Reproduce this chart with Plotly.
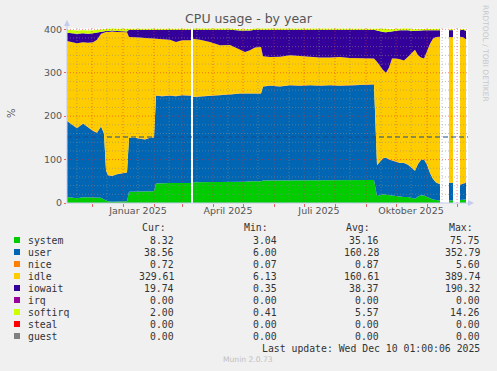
import plotly.graph_objects as go

# ---------------- data ----------------
dates = [
    "2024-11-06", "2024-11-11", "2024-11-16", "2024-11-22", "2024-11-27", "2024-12-02", "2024-12-06",
    "2024-12-10", "2024-12-13", "2024-12-15", "2024-12-17", "2024-12-21", "2024-12-26", "2024-12-31",
    "2025-01-05", "2025-01-07", "2025-01-13", "2025-01-18", "2025-01-23", "2025-01-28", "2025-02-01",
    "2025-02-03", "2025-02-09", "2025-02-17", "2025-02-23", "2025-03-01", "2025-03-10",
    "2025-03-11",  # no data
    "2025-03-12", "2025-03-19", "2025-03-29", "2025-04-08", "2025-04-18", "2025-04-28", "2025-05-03",
    "2025-05-08", "2025-05-13", "2025-05-19", "2025-05-21", "2025-05-28", "2025-06-07", "2025-06-17",
    "2025-06-27", "2025-07-07", "2025-07-17", "2025-07-27", "2025-08-06", "2025-08-16", "2025-08-26",
    "2025-09-05", "2025-09-09", "2025-09-12", "2025-09-15", "2025-09-18", "2025-09-21", "2025-09-24",
    "2025-09-27", "2025-10-01", "2025-10-05", "2025-10-09", "2025-10-13", "2025-10-17", "2025-10-20",
    "2025-10-23", "2025-10-26", "2025-10-29", "2025-11-01", "2025-11-04", "2025-11-07", "2025-11-10",
    "2025-11-14",
    "2025-11-18",  # no data
    "2025-11-23", "2025-11-25", "2025-11-27",
    "2025-11-30",  # no data
    "2025-12-04", "2025-12-07", "2025-12-10",
]
N = None
system = [14, 13, 11, 13, 13, 13, 12, 12, 8, 5, 4, 3, 3, 4, 4, 26, 26, 26, 26, 26, 27, 45, 46, 46, 46, 46, 46,
          N,
          48, 48, 48, 48, 49, 49, 49, 50, 50, 50, 52, 52, 52, 52, 53, 53, 53, 53, 53, 53, 53, 53, 53,
          16, 18, 20, 19, 18, 17, 15, 15, 14, 14, 12, 10, 15, 18, 17, 14, 10, 8, 7, 6,
          N, 6, 6, 6, N, 7, 8, 8.32]
user = [175, 167, 161, 170, 162, 153, 150, 164, 152, 70, 60, 59, 63, 64, 66, 124, 124, 122, 120, 124, 124,
        202, 200, 201, 200, 202, 201,
        N,
        196, 197, 198, 200, 201, 203, 203, 203, 202, 202, 216, 218, 216, 219, 217, 218, 217, 218, 217, 218,
        218, 219, 220, 71, 77, 83, 85, 82, 81, 80, 77, 78, 74, 68, 64, 75, 81, 83, 74, 59, 47, 40, 37,
        N, 40, 40, 40, N, 35, 37, 38.56]
nice = [0.9] * 27 + [N] + [0.9] * 43 + [N] + [0.9] * 3 + [N] + [0.9, 0.9, 0.72]
idle = [183.1, 189.1, 195.1, 186.1, 193.1, 203.1, 213.1, 213.1, 232.1, 318.1, 329.1, 332.1, 327.1, 325.1,
        322.1, 231.1, 231.1, 232.1, 233.1, 229.1, 227.1, 130.1, 130.1, 128.1, 124.1, 126.1, 127.1,
        N,
        133.1, 130.1, 124.1, 114.1, 113.1, 101.1, 95.1, 98.1, 105.1, 106.1, 69.1, 65.1, 68.1, 68.1, 67.1,
        64.1, 64.1, 63.1, 65.1, 62.1, 62.1, 61.1, 59.1, 237.1, 219.1, 202.1, 195.1, 211.1, 234.1, 237.1,
        238.1, 235.1, 248.1, 265.1, 278.1, 249.1, 235.1, 232.1, 261.1, 297.1, 323.1, 334.1, 339.1,
        N, 335.1, 335.1, 335.1, N, 340.1, 336, 329.61]
iowait = [19, 21, 22, 21, 21, 21, 17, 5, 3, 2, 2, 2, 2, 2, 2, 17, 17, 18, 19, 19, 20, 21, 22, 23, 28, 24, 24,
          N,
          21, 23, 28, 36, 35, 43, 49, 45, 41, 40, 61, 63, 62, 59, 61, 63, 64, 64, 63, 65, 65, 65, 66,
          72, 80, 88, 93, 82, 63, 64, 67, 70, 61, 50, 43, 56, 62, 65, 48, 31, 19, 16, 15,
          N, 16, 16, 16, N, 15, 17, 19.74]
irq = [0] * 27 + [N] + [0] * 43 + [N] + [0] * 3 + [N] + [0] * 3
softirq = [7, 7, 7, 7, 7, 7, 6, 5, 5, 5, 5, 5, 5, 5, 5, 2, 2, 2, 2, 2, 2, 2, 2, 2, 2, 2, 2,
           N,
           3, 3, 3, 3, 3, 3, 3, 3, 3, 3, 3, 3, 3, 3, 3, 3, 3, 3, 3, 3, 3, 3, 3,
           5, 6, 7, 8, 6, 4, 4, 3, 4, 4, 4, 4, 4, 4, 3, 3, 3, 3, 3, 3,
           N, 2, 2, 2, N, 2, 2, 2.00]
steal = [0] * 27 + [N] + [0] * 43 + [N] + [0] * 3 + [N] + [0] * 3
guest = [0] * 27 + [N] + [0] * 43 + [N] + [0] * 3 + [N] + [0] * 3

series_names = ["system", "user", "nice", "idle", "iowait", "irq", "softirq", "steal", "guest"]
series_values = [system, user, nice, idle, iowait, irq, softirq, steal, guest]
series_colors = ["#00CC00", "#0066B3", "#FF8000", "#FFCC00", "#330099", "#990099", "#CCFF00", "#FF0000", "#808080"]

cur_vals = [8.32, 38.56, 0.72, 329.61, 19.74, 0.00, 2.00, 0.00, 0.00]
min_vals = [3.04, 6.00, 0.07, 6.13, 0.35, 0.00, 0.41, 0.00, 0.00]
avg_vals = [35.16, 160.28, 0.87, 160.61, 38.37, 0.00, 5.57, 0.00, 0.00]
max_vals = [75.75, 352.79, 5.60, 389.74, 190.32, 0.00, 14.26, 0.00, 0.00]

warning_level = 152

y_ticks = [0, 100, 200, 300, 400]
x_label_dates = ["2025-01-16", "2025-04-16", "2025-07-16", "2025-10-16"]
x_label_text = ["Januar 2025", "April 2025", "Juli 2025", "Oktober 2025"]
x_start, x_end = "2024-11-06", "2025-12-12"
y_max = 403
last_update = "Last update: Wed Dec 10 01:00:06 2025"

# ---------------- layout geometry ----------------
W, H = 497, 371
L, R, T, B = 67, 29, 28, 168
PW = W - L - R
PH = H - T - B


def px_x(px):
    return (px - L) / PW


def px_y(py):
    return (H - B - py) / PH


# split into contiguous segments (None = no data)
segments = []
cur = []
for i, d in enumerate(dates):
    if system[i] is None:
        if cur:
            segments.append(cur)
        cur = []
    else:
        cur.append(i)
if cur:
    segments.append(cur)

fig = go.Figure()
for si, seg in enumerate(segments):
    for name, vals, col in zip(series_names, series_values, series_colors):
        fig.add_trace(go.Scatter(
            x=[dates[i] for i in seg], y=[vals[i] for i in seg],
            stackgroup=f"seg{si}", mode="lines", line=dict(width=0, color=col),
            fillcolor=col, name=name, showlegend=False, hoverinfo="skip"))

shapes = []
MINOR = "rgba(140,140,140,0.55)"
MAJOR = "rgba(235,40,40,0.55)"
DOT = "1px,2px"
# horizontal grid
for v in range(20, y_max, 20):
    shapes.append(dict(type="line", xref="paper", yref="y", x0=0, x1=1, y0=v, y1=v, layer="above",
                       line=dict(color=MAJOR if v % 100 == 0 else MINOR, width=1, dash=DOT)))
# vertical grid
months = []
y0, m0 = 2024, 11
while (y0, m0) <= (2025, 12):
    months.append((y0, m0))
    m0 += 1
    if m0 > 12:
        m0, y0 = 1, y0 + 1
for (yy, mm) in months:
    for day, colr in ((1, MAJOR), (16, MINOR)):
        d = f"{yy}-{mm:02d}-{day:02d}"
        if x_start < d < x_end:
            shapes.append(dict(type="line", xref="x", yref="paper", x0=d, x1=d, y0=0, y1=1, layer="above",
                               line=dict(color=colr, width=1, dash=DOT)))
# warning rule
shapes.append(dict(type="line", xref="paper", yref="y", x0=0, x1=1, y0=warning_level, y1=warning_level,
                   layer="above", line=dict(color="#1a4a8a", width=1, dash="5px,3px")))
# axes + arrows
AX = "#c4cbee"
shapes.append(dict(type="line", xref="paper", yref="paper", x0=0, x1=0, y0=0, y1=px_y(22), layer="above",
                   line=dict(color=AX, width=1)))
shapes.append(dict(type="line", xref="paper", yref="paper", x0=0, x1=px_x(470), y0=0, y1=0, layer="above",
                   line=dict(color=AX, width=1)))
shapes.append(dict(type="path", xref="paper", yref="paper", layer="above", fillcolor=AX, line=dict(width=0),
                   path=f"M {px_x(64)} {px_y(26)} L {px_x(70)} {px_y(26)} L {px_x(67)} {px_y(20)} Z"))
shapes.append(dict(type="path", xref="paper", yref="paper", layer="above", fillcolor=AX, line=dict(width=0),
                   path=f"M {px_x(468)} {px_y(200)} L {px_x(468)} {px_y(206)} L {px_x(474)} {px_y(203)} Z"))

annotations = []
MONO = "DejaVu Sans Mono"
TXT = "#333333"
row_y0, row_dy = 240, 12
col_right = [176, 279, 381, 482]
header_x = [(140, "Cur:"), (242, "Min:"), (344, "Avg:"), (447, "Max:")]
for hx, ht in header_x:
    annotations.append(dict(x=px_x(hx), y=px_y(227), xref="paper", yref="paper", text=ht, showarrow=False,
                            xanchor="left", yanchor="middle", font=dict(family=MONO, size=9.8, color=TXT)))
for r, name in enumerate(series_names):
    yy = row_y0 + r * row_dy
    shapes.append(dict(type="rect", xref="paper", yref="paper", x0=px_x(14), x1=px_x(20),
                       y0=px_y(yy + 3), y1=px_y(yy - 3), fillcolor=series_colors[r], line=dict(width=0)))
    annotations.append(dict(x=px_x(26), y=px_y(yy), xref="paper", yref="paper", text=name, showarrow=False,
                            xanchor="left", yanchor="middle", font=dict(family=MONO, size=9.8, color=TXT)))
    for cx, vals in zip(col_right, (cur_vals, min_vals, avg_vals, max_vals)):
        annotations.append(dict(x=px_x(cx), y=px_y(yy), xref="paper", yref="paper", text=f"{vals[r]:.2f}",
                                showarrow=False, xanchor="right", yanchor="middle",
                                font=dict(family=MONO, size=9.8, color=TXT)))
annotations.append(dict(x=px_x(482), y=px_y(348), xref="paper", yref="paper", text=last_update, showarrow=False,
                        xanchor="right", yanchor="middle", font=dict(family=MONO, size=9.8, color=TXT)))
annotations.append(dict(x=px_x(248), y=px_y(359), xref="paper", yref="paper", text="Munin 2.0.73",
                        showarrow=False, xanchor="center", yanchor="middle",
                        font=dict(family="DejaVu Sans", size=7.6, color="#c0c0c0")))
annotations.append(dict(x=px_x(486), y=px_y(53), xref="paper", yref="paper", text="RRDTOOL / TOBI OETIKER",
                        showarrow=False, textangle=90, xanchor="center", yanchor="middle",
                        font=dict(family="DejaVu Sans", size=7.5, color="#c8c8c8")))
annotations.append(dict(x=px_x(11), y=px_y(113), xref="paper", yref="paper", text="%", showarrow=False,
                        textangle=-90, xanchor="center", yanchor="middle",
                        font=dict(family="DejaVu Sans", size=10, color="#555555")))

fig.update_layout(
    width=W, height=H, margin=dict(l=L, r=R, t=T, b=B, pad=0),
    paper_bgcolor="#F0F0F0", plot_bgcolor="#FFFFFF",
    title=dict(text="CPU usage - by year", x=0.5, xref="container", xanchor="center",
               y=1 - 19 / H, yref="container", yanchor="middle",
               font=dict(family="DejaVu Sans", size=12.5, color="#555555")),
    xaxis=dict(type="date", range=[x_start, x_end], tickvals=x_label_dates, ticktext=x_label_text,
               ticks="", showgrid=False, zeroline=False, showline=False,
               tickfont=dict(family="DejaVu Sans", size=9.5, color="#555555"),
               minor=dict(ticks="outside", ticklen=3, tickcolor="rgba(230,40,40,0.7)", tickwidth=1,
                          dtick="M1", tick0="2024-12-01", showgrid=False)),
    yaxis=dict(range=[0, y_max], tickvals=y_ticks, ticks="outside", ticklen=2,
               tickcolor="rgba(230,40,40,0.7)", showgrid=False, zeroline=False, showline=False,
               tickfont=dict(family="DejaVu Sans", size=9.5, color="#555555")),
    shapes=shapes, annotations=annotations, showlegend=False,
)

fig.write_html("out.html", config={"displayModeBar": False, "staticPlot": True},
               post_script="document.body.style.margin='0';document.body.style.padding='0';")
